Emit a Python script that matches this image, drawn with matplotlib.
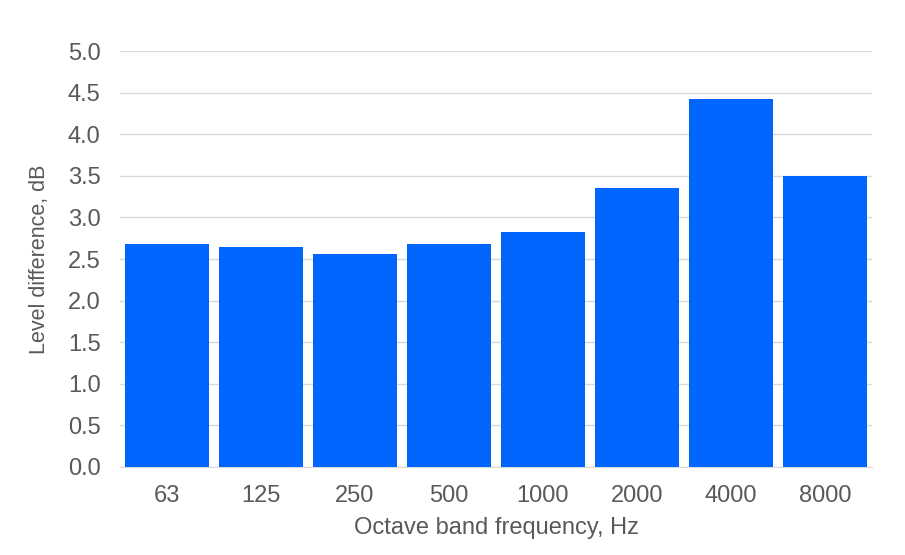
import matplotlib
matplotlib.use("Agg")
import matplotlib.pyplot as plt

categories = ["63", "125", "250", "500", "1000", "2000", "4000", "8000"]
values = [2.68, 2.64, 2.56, 2.68, 2.82, 3.35, 4.42, 3.50]
yticks = [0.0, 0.5, 1.0, 1.5, 2.0, 2.5, 3.0, 3.5, 4.0, 4.5, 5.0]

plt.rcParams['font.family'] = ['Liberation Sans', 'DejaVu Sans']
fig = plt.figure(figsize=(9.05, 5.55), dpi=100)
ax = fig.add_axes([0.1326, 0.1586, 0.8309, 0.7494])

x = range(len(categories))
ax.bar(x, values, width=0.89, color="#0066FF", zorder=3)
ax.set_xlim(-0.5, len(categories) - 0.5)
ax.set_ylim(0, 5.0)
ax.set_yticks(yticks)
ax.set_yticklabels([f"{v:.1f}" for v in yticks])
ax.set_xticks(list(x))
ax.set_xticklabels(categories)
ax.grid(axis='y', color="#d9d9d9", linewidth=1, zorder=0)
for s in ['top', 'right', 'left']:
    ax.spines[s].set_visible(False)
ax.spines['bottom'].set_color("#d9d9d9")
ax.tick_params(axis='both', length=0, labelsize=17, colors="#595959")
ax.tick_params(axis='y', pad=14)
ax.tick_params(axis='x', pad=13)
ax.set_xlabel("Octave band frequency, Hz", fontsize=17, color="#595959", labelpad=7)
ax.set_ylabel("Level difference, dB", fontsize=15.5, color="#595959", labelpad=13)

fig.savefig("out.png", dpi=100)
